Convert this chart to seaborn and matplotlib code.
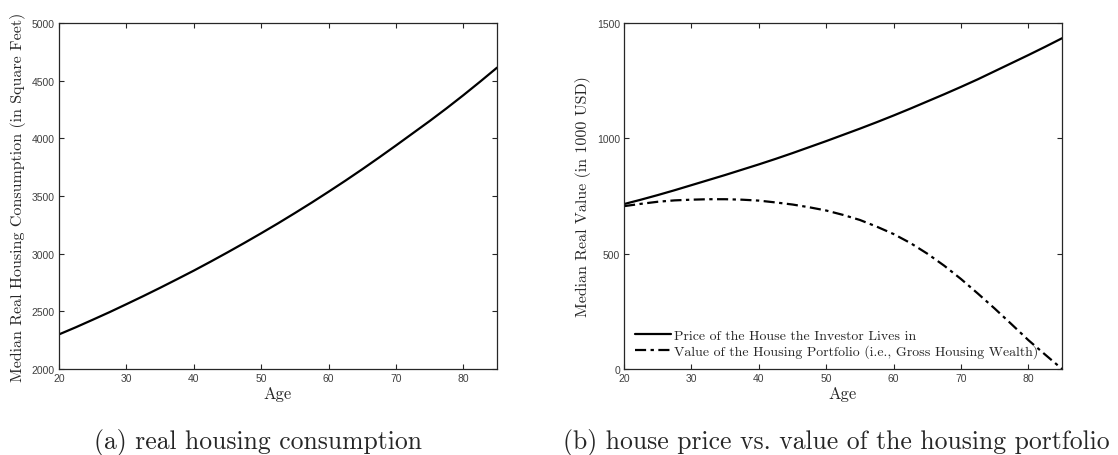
import matplotlib
matplotlib.use("Agg")
import matplotlib.pyplot as plt
import seaborn as sns
import pandas as pd

# Age grid (years)
ages = [20, 22.5, 25, 27.5, 30, 32.5, 35, 37.5, 40, 42.5, 45, 47.5, 50, 52.5, 55,
        57.5, 60, 62.5, 65, 67.5, 70, 72.5, 75, 77.5, 80, 82.5, 85]

# Median real housing consumption (square feet)
housing_consumption = [2300, 2362, 2427, 2493, 2562, 2632, 2704, 2778, 2853, 2931, 3011,
                       3093, 3177, 3263, 3352, 3443, 3537, 3633, 3732, 3834, 3938, 4044,
                       4150, 4260, 4374, 4492, 4613]

# Median real values (1000 USD)
house_price = [715, 734, 754, 775, 797, 819, 841, 864, 887, 911, 936, 962, 988, 1015, 1042,
               1070, 1099, 1129, 1160, 1191, 1223, 1256, 1291, 1326, 1361, 1397, 1434]
portfolio_value = [706, 716, 725, 731, 734, 736, 736, 734, 730, 722, 713, 701, 687, 668, 646,
                   617, 585, 546, 500, 448, 390, 327, 262, 194, 125, 62, 0]

label_price = "Price of the House the Investor Lives in"
label_portfolio = "Value of the Housing Portfolio (i.e., Gross Housing Wealth)"

xticks = [20, 30, 40, 50, 60, 70, 80]
yticks_a = [2000, 2500, 3000, 3500, 4000, 4500, 5000]
yticks_b = [0, 500, 1000, 1500]

caption_a = "(a) real housing consumption"
caption_b = "(b) house price vs. value of the housing portfolio"

sns.set_style("ticks")
plt.rcParams.update({
    "axes.edgecolor": "#262626",
    "axes.linewidth": 0.9,
    "xtick.direction": "in",
    "ytick.direction": "in",
    "xtick.top": True,
    "ytick.right": True,
    "xtick.major.size": 3.5,
    "ytick.major.size": 3.5,
    "xtick.color": "#262626",
    "ytick.color": "#262626",
    "xtick.labelcolor": "#404040",
    "ytick.labelcolor": "#404040",
    "xtick.labelsize": 7.5,
    "ytick.labelsize": 7.5,
})
plt.rcParams["font.family"] = ["Liberation Sans", "DejaVu Sans"]

serif = "cmr10"
dashdot = [5, 2, 1.5, 2]

fig = plt.figure(figsize=(11.18, 4.56), dpi=100)
ax_a = fig.add_axes([0.0528, 0.1886, 0.3918, 0.7588])
ax_b = fig.add_axes([0.5582, 0.1886, 0.3918, 0.7588])

df_a = pd.DataFrame({"age": ages, "value": housing_consumption})
sns.lineplot(data=df_a, x="age", y="value", ax=ax_a, color="black", linewidth=1.6)

df_b = pd.DataFrame({"age": ages, "price": house_price, "portfolio": portfolio_value})
sns.lineplot(data=df_b, x="age", y="price", ax=ax_b, color="black", linewidth=1.6,
             label=label_price)
sns.lineplot(data=df_b, x="age", y="portfolio", ax=ax_b, color="black", linewidth=1.6,
             label=label_portfolio)
ax_b.lines[1].set_dashes(dashdot)

for ax, yt, ylab in [(ax_a, yticks_a, "Median Real Housing Consumption (in Square Feet)"),
                     (ax_b, yticks_b, "Median Real Value (in 1000 USD)")]:
    ax.set_xlim(20, 85)
    ax.set_ylim(yt[0], yt[-1])
    ax.set_xticks(xticks)
    ax.set_yticks(yt)
    ax.set_xlabel("Age", fontfamily=serif, fontsize=12, labelpad=2)
    ax.set_ylabel(ylab, fontfamily=serif, fontsize=11.5, labelpad=4)
    for s in ax.spines.values():
        s.set_visible(True)
    ax.tick_params(pad=3)

leg = ax_b.legend(loc="lower left", frameon=False, handlelength=2.6, handletextpad=0.2,
                  labelspacing=0.15, borderaxespad=0.4, prop={"family": serif, "size": 10})
for h in leg.get_lines():
    h.set_linewidth(1.6)
leg.get_lines()[1].set_dashes(dashdot)

fig.text(0.2308, 0.03, caption_a, ha="center", va="center", fontfamily=serif, fontsize=18.5)
fig.text(0.7480, 0.03, caption_b, ha="center", va="center", fontfamily=serif, fontsize=18.5)

fig.savefig("out.png", dpi=100)
